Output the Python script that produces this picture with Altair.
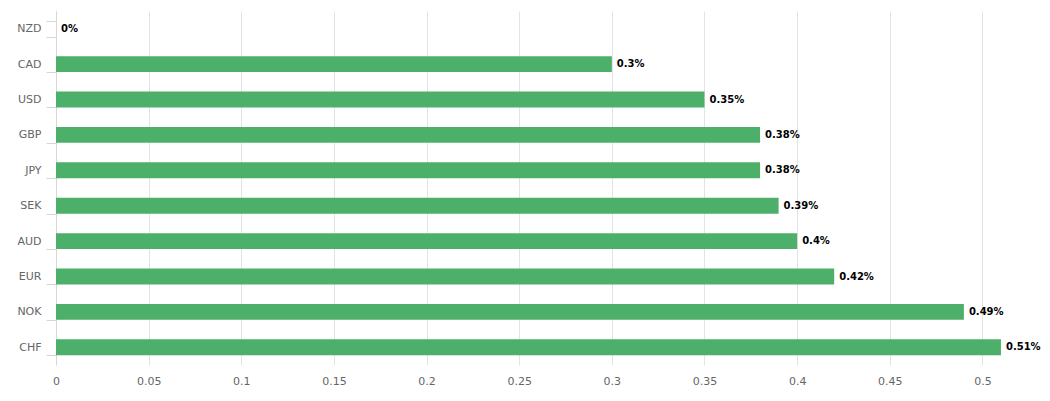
import altair as alt
import pandas as pd

currencies = ["NZD", "CAD", "USD", "GBP", "JPY", "SEK", "AUD", "EUR", "NOK", "CHF"]
values = [0, 0.3, 0.35, 0.38, 0.38, 0.39, 0.4, 0.42, 0.49, 0.51]
x_ticks = [0, 0.05, 0.1, 0.15, 0.2, 0.25, 0.3, 0.35, 0.4, 0.45, 0.5]

df = pd.DataFrame({"currency": currencies, "value": values})

FONT = "DejaVu Sans"

y_enc = alt.Y(
    "currency:N",
    sort=currencies,
    title=None,
    scale=alt.Scale(paddingInner=0.55, paddingOuter=0.275),
    axis=alt.Axis(
        labelFont=FONT, labelFontSize=11, labelColor="#666666",
        labelPadding=5, tickSize=10, tickColor="#d6d6d6", tickBand="extent",
        domainColor="#d6d6d6", grid=False,
    ),
)
x_enc = alt.X(
    "value:Q",
    title=None,
    scale=alt.Scale(domain=[0, 0.53], nice=False, zero=True),
    axis=alt.Axis(
        values=x_ticks, format="~g", labelFont=FONT, labelFontSize=11,
        labelColor="#666666", labelPadding=10, ticks=False, domain=False,
        grid=True, gridColor="#e3e3e3", labelFlush=False,
    ),
)

bars = alt.Chart(df).mark_bar(color="#4caf6a").encode(x=x_enc, y=y_enc)

labels = alt.Chart(df).transform_calculate(
    label="datum.value + '%'"
).mark_text(
    align="left", baseline="middle", dx=5, font=FONT, fontSize=10,
    fontWeight="bold", color="#000000"
).encode(
    x=alt.X("value:Q"),
    y=alt.Y("currency:N", sort=currencies),
    text="label:N",
)

chart = (bars + labels).properties(
    width=982, height=354,
    autosize=alt.AutoSizeParams(type="none"),
    padding={"left": 48, "top": 3, "right": 4, "bottom": 26},
).configure_view(stroke=None)

chart.save("out.html", embed_options={"renderer": "svg", "actions": False})
